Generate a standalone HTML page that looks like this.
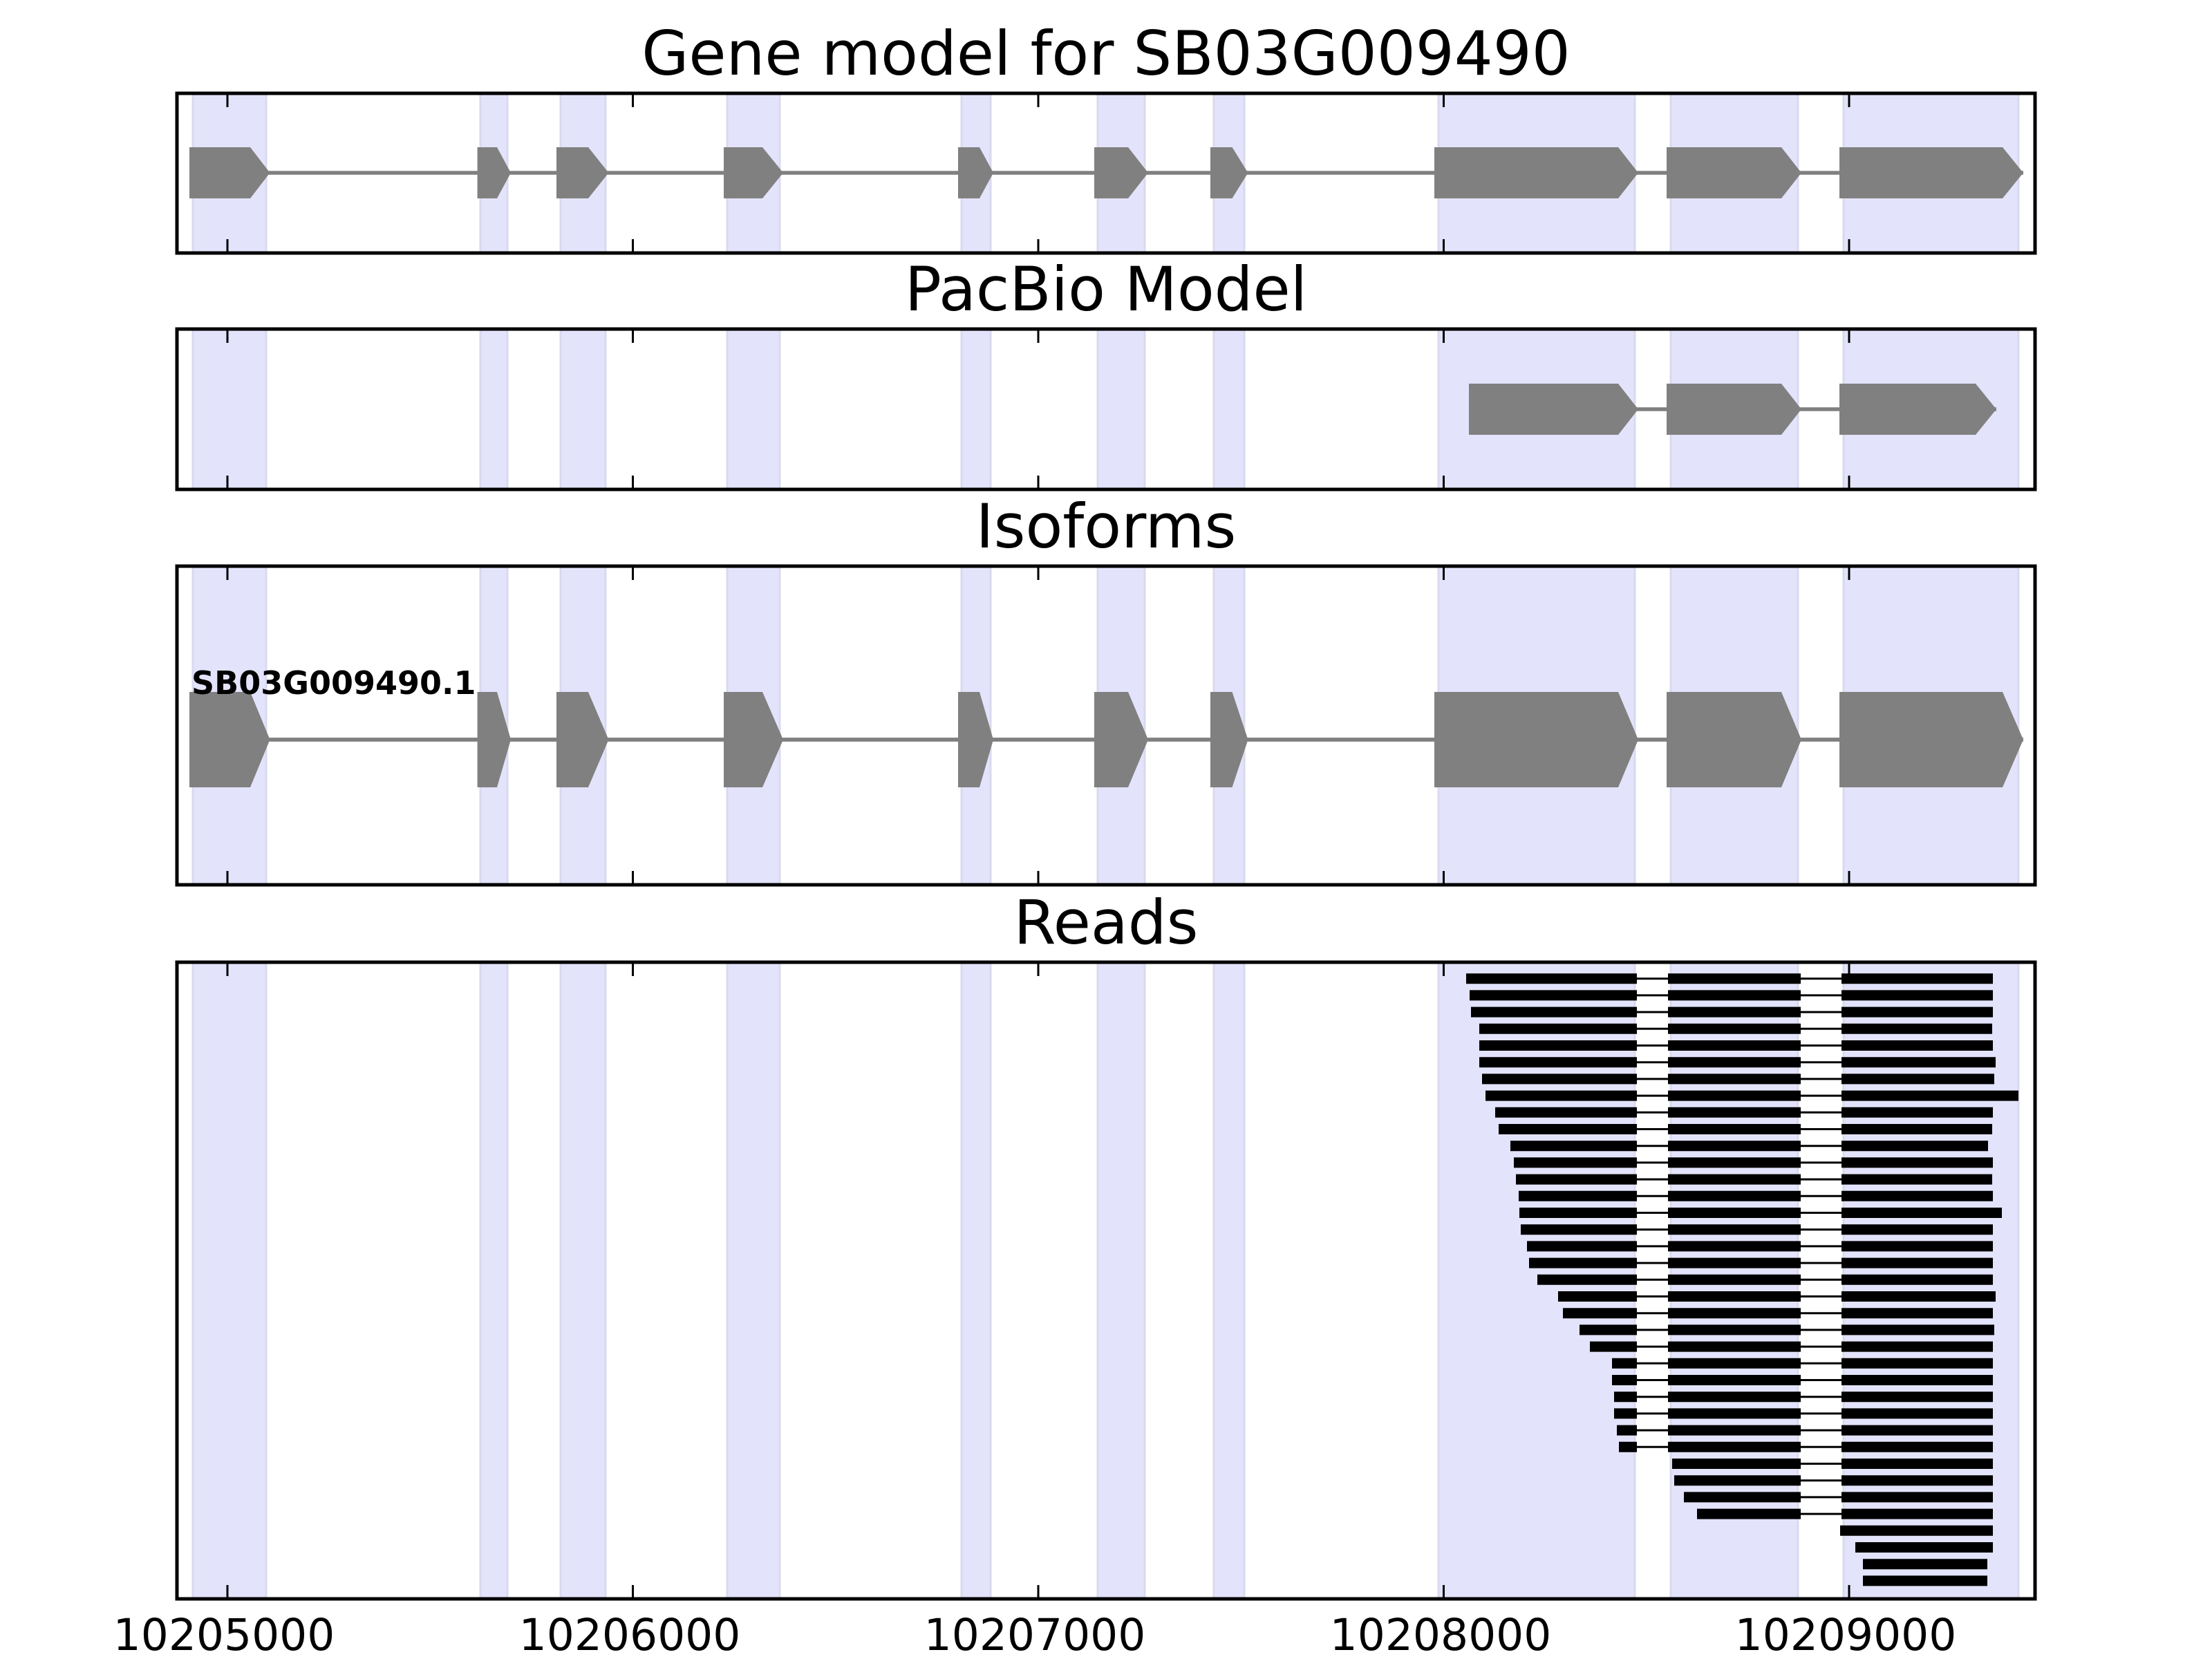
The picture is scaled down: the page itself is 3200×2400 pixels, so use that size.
<!DOCTYPE html>
<html><head><meta charset="utf-8"><style>html,body{margin:0;padding:0;background:#fff}svg{display:block}</style></head>
<body>
<svg xmlns="http://www.w3.org/2000/svg" width="3200" height="2400" viewBox="0 0 3200 2400">
<rect width="3200" height="2400" fill="#fff"/>
<g fill="#e3e3fc" stroke="#d9d9ee" stroke-width="3">
<g>
<rect x="279" y="135" width="106" height="231"/><rect x="695" y="135" width="39" height="231"/><rect x="811" y="135" width="65" height="231"/><rect x="1052" y="135" width="76" height="231"/><rect x="1391" y="135" width="42" height="231"/><rect x="1588" y="135" width="68" height="231"/><rect x="1756" y="135" width="44" height="231"/><rect x="2081" y="135" width="284" height="231"/><rect x="2417" y="135" width="184" height="231"/><rect x="2667" y="135" width="253" height="231"/>
</g>
<g>
<rect x="279" y="476" width="106" height="232"/><rect x="695" y="476" width="39" height="232"/><rect x="811" y="476" width="65" height="232"/><rect x="1052" y="476" width="76" height="232"/><rect x="1391" y="476" width="42" height="232"/><rect x="1588" y="476" width="68" height="232"/><rect x="1756" y="476" width="44" height="232"/><rect x="2081" y="476" width="284" height="232"/><rect x="2417" y="476" width="184" height="232"/><rect x="2667" y="476" width="253" height="232"/>
</g>
<g>
<rect x="279" y="819" width="106" height="461"/><rect x="695" y="819" width="39" height="461"/><rect x="811" y="819" width="65" height="461"/><rect x="1052" y="819" width="76" height="461"/><rect x="1391" y="819" width="42" height="461"/><rect x="1588" y="819" width="68" height="461"/><rect x="1756" y="819" width="44" height="461"/><rect x="2081" y="819" width="284" height="461"/><rect x="2417" y="819" width="184" height="461"/><rect x="2667" y="819" width="253" height="461"/>
</g>
<g>
<rect x="279" y="1392" width="106" height="921"/><rect x="695" y="1392" width="39" height="921"/><rect x="811" y="1392" width="65" height="921"/><rect x="1052" y="1392" width="76" height="921"/><rect x="1391" y="1392" width="42" height="921"/><rect x="1588" y="1392" width="68" height="921"/><rect x="1756" y="1392" width="44" height="921"/><rect x="2081" y="1392" width="284" height="921"/><rect x="2417" y="1392" width="184" height="921"/><rect x="2667" y="1392" width="253" height="921"/>
</g>
</g>

<line x1="274" y1="250" x2="2927" y2="250" stroke="#808080" stroke-width="5.5"/>
<g fill="#808080" id="exons">
<polygon points="274,213 362,213 390.5,250 362,287 274,287"/>
<polygon points="690.6,213 719,213 739,250 719,287 690.6,287"/>
<polygon points="805,213 851,213 880.5,250 851,287 805,287"/>
<polygon points="1047,213 1103,213 1133,250 1103,287 1047,287"/>
<polygon points="1386,213 1417,213 1437,250 1417,287 1386,287"/>
<polygon points="1583,213 1632,213 1661,250 1632,287 1583,287"/>
<polygon points="1751,213 1782.5,213 1805.5,250 1782.5,287 1751,287"/>
<polygon points="2075,213 2341,213 2370,250 2341,287 2075,287"/>
<polygon points="2411,213 2577,213 2606,250 2577,287 2411,287"/>
<polygon points="2661,213 2897,213 2927,250 2897,287 2661,287"/>
</g>

<line x1="2125" y1="592" x2="2888" y2="592" stroke="#808080" stroke-width="5.5"/>
<g fill="#808080">
<polygon points="2125,555 2341,555 2370,592 2341,629 2125,629"/>
<polygon points="2411,555 2577,555 2606,592 2577,629 2411,629"/>
<polygon points="2661,555 2858,555 2888,592 2858,629 2661,629"/>
</g>

<line x1="274" y1="1070" x2="2927" y2="1070" stroke="#808080" stroke-width="5.7"/>
<g transform="translate(0,1070) scale(1,1.865) translate(0,-250)">
<use href="#exons"/>
</g>
<text x="277" y="1004" font-family="DejaVu Sans, Liberation Sans, sans-serif" font-weight="bold" font-size="46" fill="#000">SB03G009490.1</text>

<path fill="none" stroke="#000" stroke-width="3" d="
M2368 1415.7H2413M2605 1415.7H2664
M2368 1439.9H2413M2605 1439.9H2664
M2368 1464.1H2413M2605 1464.1H2664
M2368 1488.3H2413M2605 1488.3H2664
M2368 1512.5H2413M2605 1512.5H2664
M2368 1536.7H2413M2605 1536.7H2664
M2368 1560.9H2413M2605 1560.9H2664
M2368 1585.1H2413M2605 1585.1H2664
M2368 1609.3H2413M2605 1609.3H2664
M2368 1633.5H2413M2605 1633.5H2664
M2368 1657.7H2413M2605 1657.7H2664
M2368 1681.9H2413M2605 1681.9H2664
M2368 1706.1H2413M2605 1706.1H2664
M2368 1730.3H2413M2605 1730.3H2664
M2368 1754.5H2413M2605 1754.5H2664
M2368 1778.7H2413M2605 1778.7H2664
M2368 1802.9H2413M2605 1802.9H2664
M2368 1827.1H2413M2605 1827.1H2664
M2368 1851.3H2413M2605 1851.3H2664
M2368 1875.5H2413M2605 1875.5H2664
M2368 1899.7H2413M2605 1899.7H2664
M2368 1923.9H2413M2605 1923.9H2664
M2368 1948.1H2413M2605 1948.1H2664
M2368 1972.3H2413M2605 1972.3H2664
M2368 1996.5H2413M2605 1996.5H2664
M2368 2020.7H2413M2605 2020.7H2664
M2368 2044.9H2413M2605 2044.9H2664
M2368 2069.1H2413M2605 2069.1H2664
M2368 2093.3H2413M2605 2093.3H2664
M2605 2117.5H2664
M2605 2141.7H2664
M2605 2165.9H2664
M2605 2190.1H2664"/>
<path fill="none" stroke="#000" stroke-width="15" d="
M2121 1415.7H2368M2413 1415.7H2605M2664 1415.7H2883
M2126 1439.9H2368M2413 1439.9H2605M2664 1439.9H2883
M2128 1464.1H2368M2413 1464.1H2605M2664 1464.1H2883
M2140 1488.3H2368M2413 1488.3H2605M2664 1488.3H2882
M2140 1512.5H2368M2413 1512.5H2605M2664 1512.5H2883
M2140 1536.7H2368M2413 1536.7H2605M2664 1536.7H2887
M2144 1560.9H2368M2413 1560.9H2605M2664 1560.9H2885
M2149 1585.1H2368M2413 1585.1H2605M2664 1585.1H2920
M2163 1609.3H2368M2413 1609.3H2605M2664 1609.3H2883
M2168 1633.5H2368M2413 1633.5H2605M2664 1633.5H2882
M2185 1657.7H2368M2413 1657.7H2605M2664 1657.7H2876
M2190 1681.9H2368M2413 1681.9H2605M2664 1681.9H2883
M2193 1706.1H2368M2413 1706.1H2605M2664 1706.1H2882
M2197 1730.3H2368M2413 1730.3H2605M2664 1730.3H2883
M2198 1754.5H2368M2413 1754.5H2605M2664 1754.5H2896
M2200 1778.7H2368M2413 1778.7H2605M2664 1778.7H2883
M2209 1802.9H2368M2413 1802.9H2605M2664 1802.9H2883
M2212 1827.1H2368M2413 1827.1H2605M2664 1827.1H2883
M2224 1851.3H2368M2413 1851.3H2605M2664 1851.3H2883
M2254 1875.5H2368M2413 1875.5H2605M2664 1875.5H2887
M2261 1899.7H2368M2413 1899.7H2605M2664 1899.7H2883
M2285 1923.9H2368M2413 1923.9H2605M2664 1923.9H2885
M2300 1948.1H2368M2413 1948.1H2605M2664 1948.1H2883
M2332 1972.3H2368M2413 1972.3H2605M2664 1972.3H2883
M2332 1996.5H2368M2413 1996.5H2605M2664 1996.5H2883
M2335 2020.7H2368M2413 2020.7H2605M2664 2020.7H2883
M2335 2044.9H2368M2413 2044.9H2605M2664 2044.9H2883
M2339 2069.1H2368M2413 2069.1H2605M2664 2069.1H2883
M2342 2093.3H2368M2413 2093.3H2605M2664 2093.3H2883
M2419 2117.5H2605M2664 2117.5H2883
M2422 2141.7H2605M2664 2141.7H2883
M2436 2165.9H2605M2664 2165.9H2883
M2455 2190.1H2605M2664 2190.1H2883
M2662 2214.3H2883
M2684 2238.5H2883
M2695 2262.7H2875
M2695 2286.9H2875"/>

<g fill="none" stroke="#000" stroke-width="5">
<rect x="256" y="135" width="2688" height="231"/>
<rect x="256" y="476" width="2688" height="232"/>
<rect x="256" y="819" width="2688" height="461"/>
<rect x="256" y="1392" width="2688" height="921"/>
</g>
<path stroke="#000" stroke-width="3" fill="none" d="
M329 135v20M915.5 135v20M1502 135v20M2088.5 135v20M2675 135v20
M329 366v-20M915.5 366v-20M1502 366v-20M2088.5 366v-20M2675 366v-20
M329 476v20M915.5 476v20M1502 476v20M2088.5 476v20M2675 476v20
M329 708v-20M915.5 708v-20M1502 708v-20M2088.5 708v-20M2675 708v-20
M329 819v20M915.5 819v20M1502 819v20M2088.5 819v20M2675 819v20
M329 1280v-20M915.5 1280v-20M1502 1280v-20M2088.5 1280v-20M2675 1280v-20
M329 1392v20M915.5 1392v20M1502 1392v20M2088.5 1392v20M2675 1392v20
M329 2313v-20M915.5 2313v-20M1502 2313v-20M2088.5 2313v-20M2675 2313v-20"/>

<g font-family="DejaVu Sans, Liberation Sans, sans-serif" font-size="88" fill="#000" text-anchor="middle">
<text x="1600" y="108">Gene model for SB03G009490</text>
<text x="1600" y="449">PacBio Model</text>
<text x="1600" y="792">Isoforms</text>
<text x="1600" y="1365">Reads</text>
</g>
<g font-family="DejaVu Sans, Liberation Sans, sans-serif" font-size="63" fill="#000" text-anchor="middle">
<text x="324" y="2387">10205000</text>
<text x="911" y="2387">10206000</text>
<text x="1497" y="2387">10207000</text>
<text x="2084" y="2387">10208000</text>
<text x="2670" y="2387">10209000</text>
</g>
</svg>
</body></html>
